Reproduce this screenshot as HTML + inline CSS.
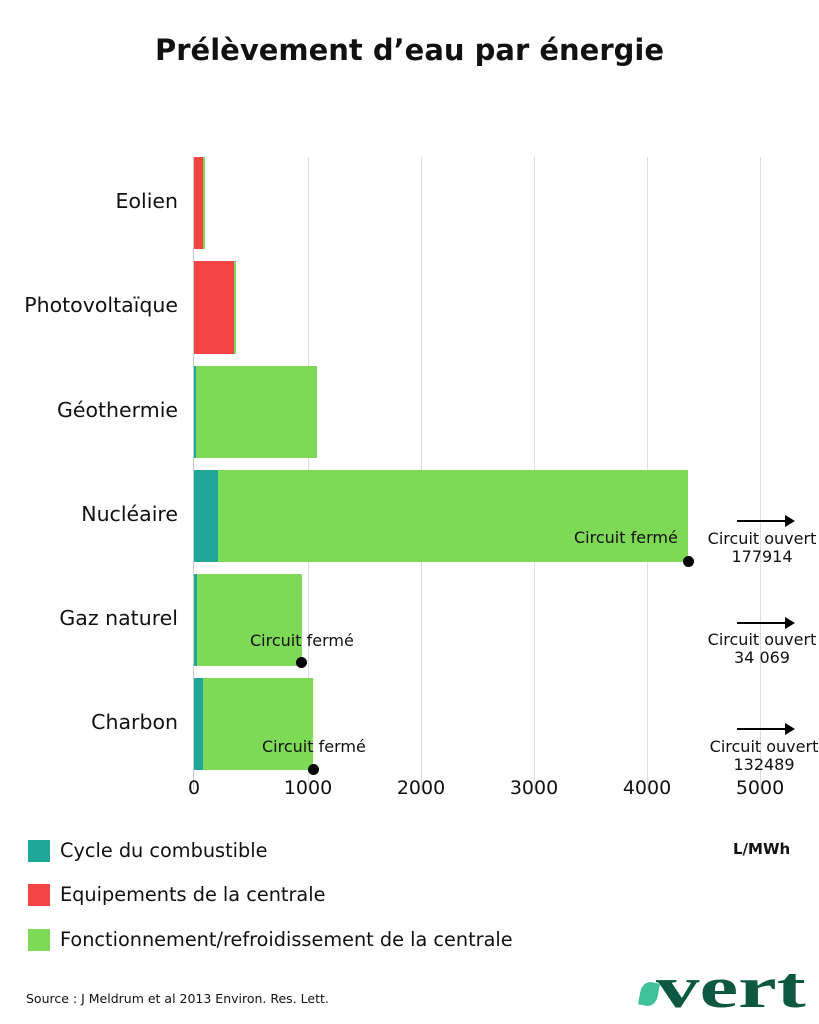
<!DOCTYPE html>
<html><head><meta charset="utf-8"><style>
body{margin:0;width:819px;height:1024px;background:#fff;position:relative;overflow:hidden;font-family:"DejaVu Sans",sans-serif;color:#111}
div{position:absolute}
.g{top:157px;height:633px;width:1px;background:#ddd}
.lab{right:641px;font-size:20.5px;text-align:right;white-space:nowrap}
.t{font-size:19px;top:777px;width:80px;text-align:center}
.cf{font-size:16px;white-space:nowrap}
.dot{width:11px;height:11px;border-radius:50%;background:#000}
.co{font-size:16px;text-align:center;line-height:18px;width:130px}
.ar{height:2px;width:56px;background:#000}
.ar:after{content:"";position:absolute;right:-2px;top:-5px;border-left:10px solid #000;border-top:6px solid transparent;border-bottom:6px solid transparent}
.sq{width:22px;height:22px;left:28px}
.lg{left:60px;font-size:19.3px;white-space:nowrap}
</style></head><body>
<div style="top:33px;left:0;width:819px;text-align:center;font-size:29px;font-weight:bold">Prélèvement d’eau par énergie</div>
<div class="g" style="left:193px;background:#ccc"></div>
<div class="g" style="left:308px"></div><div class="g" style="left:421px"></div><div class="g" style="left:534px"></div><div class="g" style="left:647px"></div><div class="g" style="left:760px"></div>

<div class="lab" style="top:189px">Eolien</div>
<div class="lab" style="top:293px">Photovoltaïque</div>
<div class="lab" style="top:398px">Géothermie</div>
<div class="lab" style="top:502px">Nucléaire</div>
<div class="lab" style="top:606px">Gaz naturel</div>
<div class="lab" style="top:710px">Charbon</div>

<div style="left:194px;top:157px;width:11px;height:92px;background:#7ed957"></div>
<div style="left:194px;top:157px;width:9px;height:92px;background:#f44545"></div>
<div style="left:194px;top:261px;width:42px;height:93px;background:#7ed957"></div>
<div style="left:194px;top:261px;width:40px;height:93px;background:#f44545"></div>
<div style="left:194px;top:366px;width:123px;height:92px;background:#7ed957"></div>
<div style="left:194px;top:366px;width:2px;height:92px;background:#1fa89a"></div>
<div style="left:194px;top:470px;width:494px;height:92px;background:#7ed957"></div>
<div style="left:194px;top:470px;width:24px;height:92px;background:#1fa89a"></div>
<div style="left:194px;top:574px;width:108px;height:92px;background:#7ed957"></div>
<div style="left:194px;top:574px;width:3px;height:92px;background:#1fa89a"></div>
<div style="left:194px;top:678px;width:119px;height:92px;background:#7ed957"></div>
<div style="left:194px;top:678px;width:9px;height:92px;background:#1fa89a"></div>

<div class="cf" style="left:574px;top:528px">Circuit fermé</div>
<div class="dot" style="left:683px;top:556px"></div>
<div class="cf" style="left:250px;top:631px">Circuit fermé</div>
<div class="dot" style="left:296px;top:657px"></div>
<div class="cf" style="left:262px;top:737px">Circuit fermé</div>
<div class="dot" style="left:308px;top:764px"></div>

<div class="ar" style="left:737px;top:520px"></div>
<div class="co" style="left:697px;top:530px">Circuit ouvert<br>177914</div>
<div class="ar" style="left:737px;top:622px"></div>
<div class="co" style="left:697px;top:631px">Circuit ouvert<br>34 069</div>
<div class="ar" style="left:737px;top:728px"></div>
<div class="co" style="left:699px;top:738px">Circuit ouvert<br>132489</div>

<div class="t" style="left:154px">0</div>
<div class="t" style="left:268px">1000</div>
<div class="t" style="left:381px">2000</div>
<div class="t" style="left:494px">3000</div>
<div class="t" style="left:607px">4000</div>
<div class="t" style="left:720px">5000</div>

<div class="sq" style="top:840px;background:#1fa89a"></div>
<div class="lg" style="top:839px">Cycle du combustible</div>
<div class="sq" style="top:884px;background:#f44545"></div>
<div class="lg" style="top:883px">Equipements de la centrale</div>
<div class="sq" style="top:929px;background:#7ed957"></div>
<div class="lg" style="top:928px">Fonctionnement/refroidissement de la centrale</div>
<div style="left:733px;top:840px;font-size:15px;font-weight:bold">L/MWh</div>

<div style="left:26px;top:991px;font-size:12.5px">Source : J Meldrum et al 2013 Environ. Res. Lett.</div>
<div style="left:640px;top:982px;width:18px;height:24px;border-radius:50% 0 50% 0;background:#3fc29a;transform:rotate(10deg)"></div>
<div style="left:656px;top:954px;font-family:'Liberation Serif',serif;font-weight:bold;font-size:58px;color:#0d5840;transform:scaleX(1.5);transform-origin:left">vert</div>
</body></html>
